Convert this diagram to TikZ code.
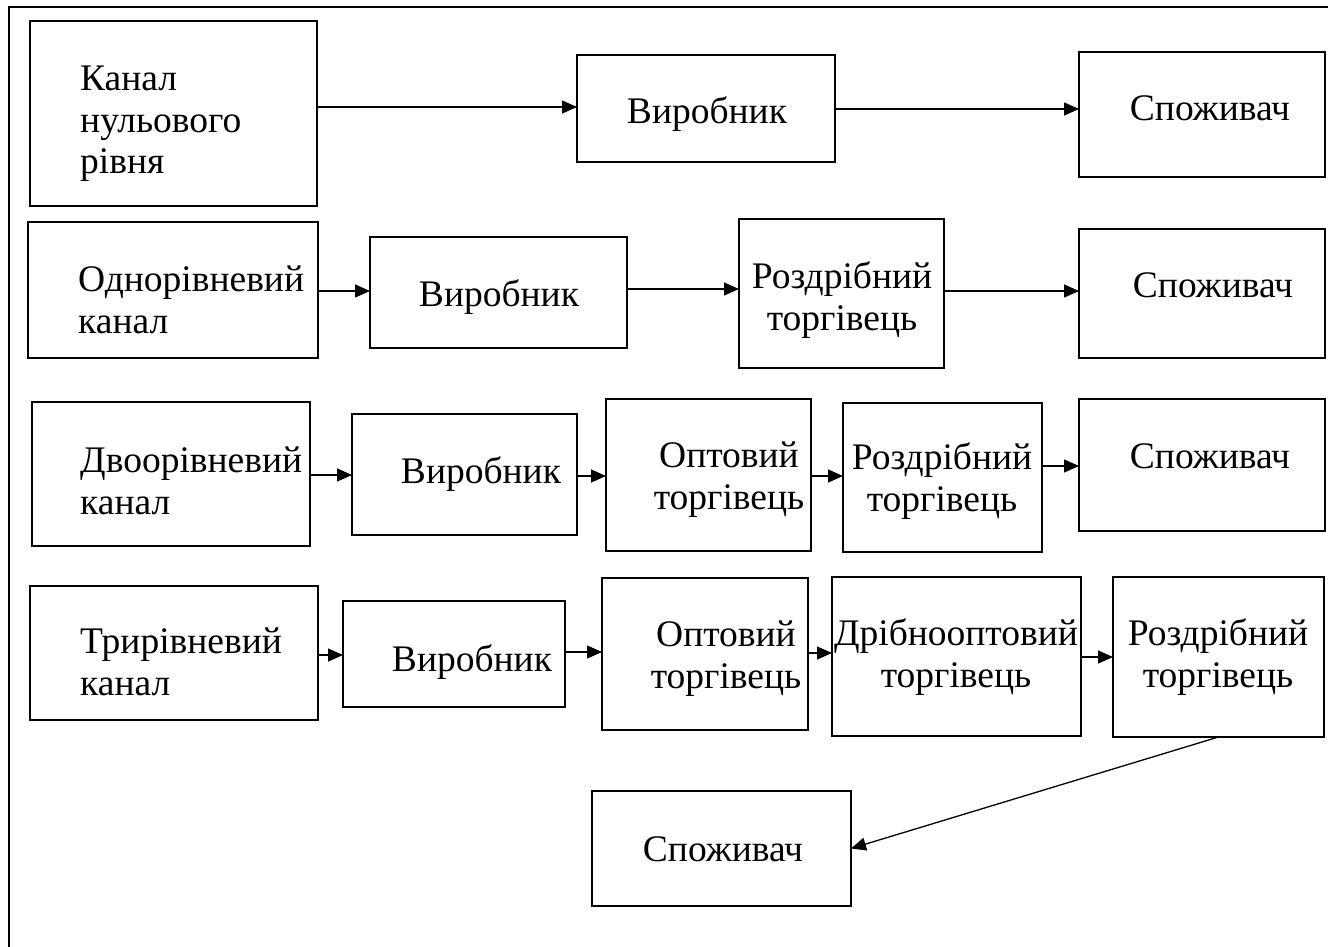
\documentclass[tikz,border=0pt]{standalone}
\usepackage{fontspec}
\setmainfont{Liberation Serif}
\usetikzlibrary{arrows.meta}
\begin{document}
\begin{tikzpicture}[x=1pt,y=-1pt,
  box/.style={draw,line width=1.9pt,inner sep=0pt,outer sep=0pt},
  txt/.style={inner sep=0pt,font=\fontsize{37.5}{42}\selectfont},
  arr/.style={line width=1.3pt,-{Triangle[length=15pt,width=13pt]}},
  frame/.style={line width=1.9pt}]
\useasboundingbox (0,0) rectangle (1328,947);
\coordinate (fb) at (9,947);
\coordinate (ftl) at (9,7);
\coordinate (ftr) at (1328,7);
\draw[frame] (fb) -- (ftl) -- (ftr);
% row 1
\node[box,minimum width=287pt,minimum height=185pt] (A1) at (173.5,113.5) {};
\node[box,minimum width=258pt,minimum height=107pt] (B1) at (706,108.5) {};
\node[box,minimum width=246pt,minimum height=125pt] (C1) at (1202,114.5) {};
% row 2
\node[box,minimum width=290pt,minimum height=136pt] (A2) at (173,290) {};
\node[box,minimum width=257pt,minimum height=111pt] (B2) at (498.5,292.5) {};
\node[box,minimum width=205pt,minimum height=149pt] (C2) at (841.5,293.5) {};
\node[box,minimum width=246pt,minimum height=129pt] (D2) at (1202,293.5) {};
% row 3
\node[box,minimum width=278pt,minimum height=144pt] (A3) at (171,474) {};
\node[box,minimum width=225pt,minimum height=121pt] (B3) at (464.5,474.5) {};
\node[box,minimum width=205pt,minimum height=152pt] (C3) at (708.5,475) {};
\node[box,minimum width=199pt,minimum height=149pt] (D3) at (942.5,477.5) {};
\node[box,minimum width=246pt,minimum height=132pt] (E3) at (1202,465) {};
% row 4
\node[box,minimum width=288pt,minimum height=134pt] (A4) at (174,653) {};
\node[box,minimum width=222pt,minimum height=106pt] (B4) at (454,654) {};
\node[box,minimum width=206pt,minimum height=152pt] (C4) at (705,654) {};
\node[box,minimum width=249pt,minimum height=159pt] (D4) at (956.5,656.5) {};
\node[box,minimum width=211pt,minimum height=160pt] (E4) at (1218.5,657) {};
\node[box,minimum width=259pt,minimum height=115pt] (F4) at (721.5,848.5) {};
% texts
\node[txt,align=left,anchor=base west] (tA1) at (80,174) {Канал\\нульового\\рівня};
\node[txt,anchor=base] (tB1) at (707,124) {Виробник};
\node[txt,anchor=base] (tC1) at (1210,121) {Споживач};
\node[txt,align=left,anchor=base west] (tA2) at (78,333) {Однорівневий\\канал};
\node[txt,anchor=base] (tB2) at (499,306) {Виробник};
\node[txt,align=center,anchor=base] (tC2) at (842,330) {Роздрібний\\торгівець};
\node[txt,anchor=base] (tD2) at (1213,297) {Споживач};
\node[txt,align=left,anchor=base west] (tA3) at (80,514) {Двоорівневий\\канал};
\node[txt,anchor=base] (tB3) at (481,483) {Виробник};
\node[txt,align=center,anchor=base] (tC3) at (729,509) {Оптовий\\торгівець};
\node[txt,align=center,anchor=base] (tD3) at (942,511) {Роздрібний\\торгівець};
\node[txt,anchor=base] (tE3) at (1210,468) {Споживач};
\node[txt,align=left,anchor=base west] (tA4) at (80,695) {Трирівневий\\канал};
\node[txt,anchor=base] (tB4) at (472,671) {Виробник};
\node[txt,align=center,anchor=base] (tC4) at (726,688) {Оптовий\\торгівець};
\node[txt,align=center,anchor=base] (tD4) at (956,687) {Дрібнооптовий\\торгівець};
\node[txt,align=center,anchor=base] (tE4) at (1218,687) {Роздрібний\\торгівець};
\node[txt,anchor=base] (tF4) at (723,861) {Споживач};
% arrows
\draw[arr] (A1.east |- 0,107) -- (B1.west |- 0,107);
\draw[arr] (B1.east |- 0,109) -- (C1.west |- 0,109);
\draw[arr] (A2.east |- 0,291) -- (B2.west |- 0,291);
\draw[arr] (B2.east |- 0,289) -- (C2.west |- 0,289);
\draw[arr] (C2.east |- 0,291) -- (D2.west |- 0,291);
\draw[arr] (A3.east |- 0,475) -- (B3.west |- 0,475);
\draw[arr] (B3.east |- 0,476) -- (C3.west |- 0,476);
\draw[arr] (C3.east |- 0,476) -- (D3.west |- 0,476);
\draw[arr] (D3.east |- 0,466) -- (E3.west |- 0,466);
\draw[arr] (A4.east |- 0,655) -- (B4.west |- 0,655);
\draw[arr] (B4.east |- 0,652) -- (C4.west |- 0,652);
\draw[arr] (C4.east |- 0,653) -- (D4.west |- 0,653);
\draw[arr] (D4.east |- 0,657) -- (E4.west |- 0,657);
\draw[arr] (E4.south) -- (F4.east);
\end{tikzpicture}
\end{document}
